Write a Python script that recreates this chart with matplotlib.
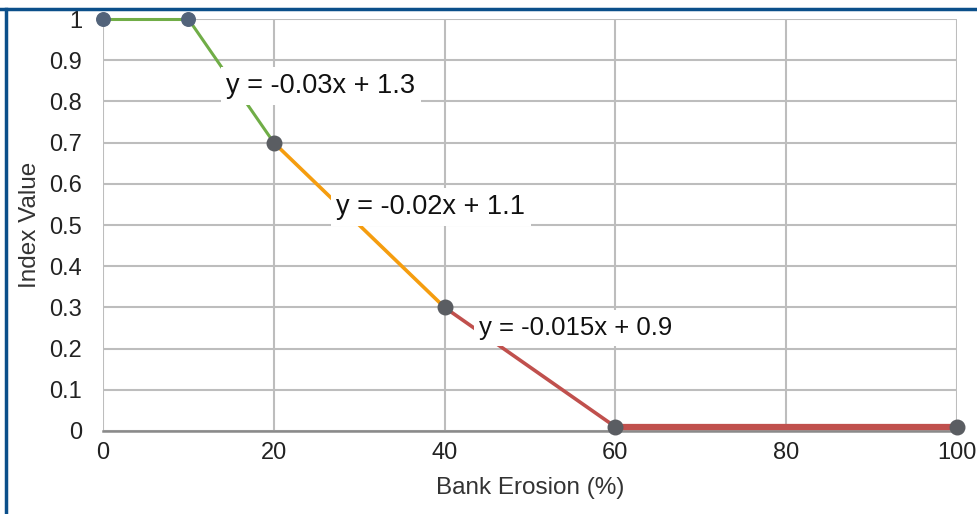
import matplotlib.pyplot as plt
from matplotlib.lines import Line2D

# bank erosion index curve
erosion = [0, 10, 20, 40, 60, 100]
index_val = [1.0, 1.0, 0.7, 0.3, 0.01, 0.01]

seg_colors = ['#70ad47', '#70ad47', '#f59d0f', '#c0504d', '#c0504d']
seg_widths = [2.2, 2.2, 2.6, 2.6, 4.5]

equations = ['y = -0.03x + 1.3', 'y = -0.02x + 1.1', 'y = -0.015x + 0.9']
eq_pos = [(25.5, 0.837), (38.4, 0.544), (55.4, 0.25)]
eq_sizes = [19.5, 19.5, 18.5]

xticks = [0, 20, 40, 60, 80, 100]
yticks = [0, 0.1, 0.2, 0.3, 0.4, 0.5, 0.6, 0.7, 0.8, 0.9, 1]
ytick_labels = ['0', '0.1', '0.2', '0.3', '0.4', '0.5', '0.6', '0.7', '0.8', '0.9', '1']

fig = plt.figure(figsize=(9.78, 5.14), dpi=100)
ax = fig.add_axes([0.1053, 0.1615, 0.8732, 0.8015])

for i in range(len(erosion) - 1):
    ax.plot(erosion[i:i + 2], index_val[i:i + 2], color=seg_colors[i],
            lw=seg_widths[i], solid_capstyle='butt', zorder=3, clip_on=False)

ax.scatter(erosion[:2], index_val[:2], s=95, color='#52637a', zorder=4, clip_on=False)
ax.scatter(erosion[2:], index_val[2:], s=110, color='#5a5d62', zorder=4, clip_on=False)

for txt, (x, y), fs in zip(equations, eq_pos, eq_sizes):
    ax.text(x, y, txt, fontsize=fs, ha='center', va='center', color='#111111',
            family='Liberation Sans',
            bbox=dict(facecolor='white', edgecolor='none', pad=4), zorder=5)

ax.set_xlim(0, 100)
ax.set_ylim(0, 1)
ax.set_xticks(xticks)
ax.set_yticks(yticks)
ax.set_yticklabels(ytick_labels)
ax.grid(True, color='#bdbdbd', lw=1.5)
ax.set_axisbelow(True)
for side in ['top', 'right', 'left']:
    ax.spines[side].set_visible(False)
ax.spines['bottom'].set_color('#8a8a8a')
ax.spines['bottom'].set_linewidth(1.8)
ax.tick_params(axis='y', length=0, labelsize=17, colors='#222222', pad=15)
ax.tick_params(axis='x', length=0, labelsize=17, colors='#222222', pad=8)
for lab in ax.get_xticklabels() + ax.get_yticklabels():
    lab.set_family('Liberation Sans')

ax.set_xlabel('Bank Erosion (%)', fontsize=17.5, color='#333333',
              family='Liberation Sans', labelpad=9)
ax.set_ylabel('Index Value', fontsize=17.5, color='#333333',
              family='Liberation Sans', labelpad=6)

# dark blue frame on top and left
fig.add_artist(Line2D([0, 1], [1 - 8.5 / 514, 1 - 8.5 / 514], color='#0b4f8a', lw=2.5))
fig.add_artist(Line2D([6.5 / 978, 6.5 / 978], [0, 1 - 8.5 / 514], color='#0b4f8a', lw=2.5))

fig.savefig('out.png', dpi=100)
